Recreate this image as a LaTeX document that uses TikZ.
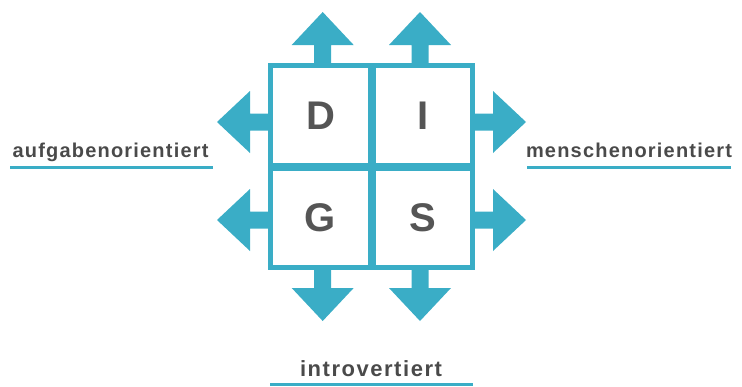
\documentclass[tikz,border=0pt]{standalone}
\usepackage{fontspec}
\setmainfont{Liberation Sans}
\newfontfamily\labelfont[LetterSpace=6]{Liberation Sans Bold}
\newfontfamily\baselabelfont[LetterSpace=7]{Liberation Sans Bold}
\newfontfamily\letterfont{Liberation Sans Bold}
\definecolor{discblue}{HTML}{3AADC6}
\definecolor{discgray}{HTML}{555555}
\definecolor{labelgray}{HTML}{4A4A4A}
\tikzset{
  cellbox/.style={minimum width=95pt, minimum height=95pt, inner sep=0pt,
    font=\letterfont\fontsize{40}{40}\selectfont, text=discgray},
  sidelabel/.style={anchor=base, inner sep=0pt, text=labelgray,
    font=\labelfont\fontsize{20}{20}\selectfont},
  baselabel/.style={anchor=base, inner sep=0pt, text=labelgray,
    font=\baselabelfont\fontsize{22}{22}\selectfont},
  underline/.style={draw=discblue, line width=3pt},
  frame/.style={draw=discblue, line width=5pt},
  crossbar/.style={draw=discblue, line width=8pt},
  blockarrow/.pic={
    \fill[discblue] (-0.5,-8.5) -- (18,-8.5) -- (18,-31) -- (51,0)
      -- (18,31) -- (18,8.5) -- (-0.5,8.5) -- cycle;
  }
}
\begin{document}
\begin{tikzpicture}[x=1pt, y=-1pt]
\useasboundingbox (0,0) rectangle (742,386);

% four quadrants
\node[cellbox] (D) at (320.5,115.5) {D};
\node[cellbox] (I) at (423,115.5) {I};
\node[cellbox] (G) at (320.5,217.5) {G};
\node[cellbox] (S) at (423,217.5) {S};

% frame and dividing cross
\draw[frame] (270.5,65.5) rectangle (472.5,267.5);
\draw[crossbar] (372,65.5) -- (372,267.5);
\draw[crossbar] (270.5,167) -- (472.5,167);

% arrows pointing out of the grid
\pic[rotate=90]  at (322.7,63) {blockarrow};
\pic[rotate=90]  at (420,63) {blockarrow};
\pic[rotate=-90] at (322.7,270) {blockarrow};
\pic[rotate=-90] at (420,270) {blockarrow};
\pic[rotate=180] at (268,122) {blockarrow};
\pic[rotate=180] at (268,220) {blockarrow};
\pic at (475,122) {blockarrow};
\pic at (475,220) {blockarrow};

% axis labels
\node[sidelabel] (task) at (110.5,157) {aufgabenorientiert};
\node[sidelabel] (people) at (629,157) {menschenorientiert};
\node[baselabel] (intro) at (371,376) {introvertiert};
\draw[underline] (10,167) -- (213,167);
\draw[underline] (527,167) -- (731,167);
\draw[underline] (270,384) -- (473,384);
\end{tikzpicture}
\end{document}
